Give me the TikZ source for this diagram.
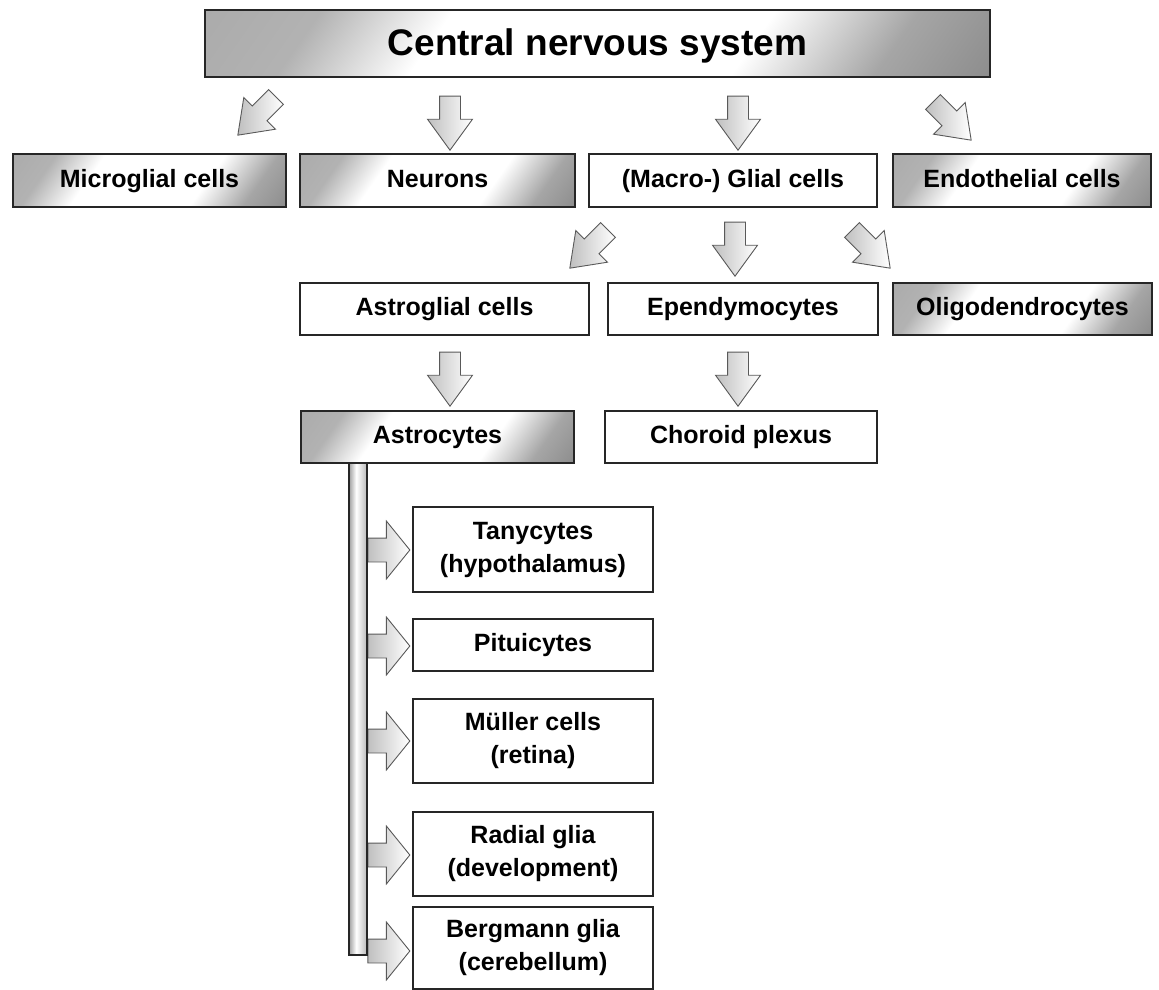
\documentclass[tikz,border=0pt]{standalone}
\usepackage{fontspec}
\setmainfont{Liberation Sans}
\usetikzlibrary{shapes.arrows}

\pgfdeclarehorizontalshading{cellshade}{100bp}{color(0bp)=(gray!75); color(25bp)=(gray!60);
	color(36bp)=(white); color(63bp)=(white); color(75bp)=(gray!70); color(100bp)=(gray!80!black)}
\pgfdeclarehorizontalshading{barshade}{100bp}{color(0bp)=(gray!75); color(25bp)=(gray!75);
	color(45bp)=(white); color(75bp)=(gray!55); color(100bp)=(gray!55)}

\begin{document}
\begin{tikzpicture}[x=1pt,y=-1pt,
		box/.style={draw=black!85, line width=1.4pt, rectangle, inner sep=0pt, align=center,
			font=\bfseries\fontsize{25}{33}\selectfont},
		oneline/.style={text height=18pt, text depth=5pt},
		shbox/.style={box, shading=cellshade, shading angle=-35},
		bigarrow/.style={single arrow, draw=black!65, line width=0.9pt, left color=gray!50, right color=white,
			inner xsep=0pt, inner ysep=10pt, single arrow head extend=12pt, single arrow tip angle=72, minimum height=54pt},
		sidearrow/.style={bigarrow, inner ysep=11.5pt, single arrow head extend=17pt, single arrow tip angle=102, minimum height=42pt}]
	\useasboundingbox (0,0) rectangle (1159,990);

	\node[shbox, minimum width=785pt, minimum height=67pt, text height=27pt, text depth=2pt,
		font=\bfseries\fontsize{37}{40}\selectfont] (cns) at (597.5,43.5) {Central nervous system};

	\node[shbox, oneline, minimum width=273pt, minimum height=53pt] (micro) at (149.5,180.5) {Microglial cells};
	\node[shbox, oneline, minimum width=275pt, minimum height=53pt] (neur) at (437.5,180.5) {Neurons};
	\node[box, oneline, minimum width=288pt, minimum height=53pt] (glia) at (733,180.5) {(Macro-) Glial cells};
	\node[shbox, oneline, minimum width=258pt, minimum height=53pt] (endo) at (1022,180.5) {Endothelial cells};

	\node[box, oneline, minimum width=289pt, minimum height=52pt] (astrog) at (444.5,309) {Astroglial cells};
	\node[box, oneline, minimum width=270pt, minimum height=52pt] (epend) at (743,309) {Ependymocytes};
	\node[shbox, oneline, minimum width=259pt, minimum height=52pt] (oligo) at (1022.5,309) {Oligodendrocytes};

	\node[shbox, oneline, minimum width=273pt, minimum height=52pt] (astro) at (437.5,437) {Astrocytes};
	\node[box, oneline, minimum width=272pt, minimum height=52pt] (chor) at (741,437) {Choroid plexus};

	\node[box, minimum width=240pt, minimum height=85pt] (tany) at (533,549.5) {Tanycytes\\(hypothalamus)};
	\node[box, oneline, minimum width=240pt, minimum height=52pt] (pitu) at (533,645) {Pituicytes};
	\node[box, minimum width=240pt, minimum height=84pt] (mull) at (533,741) {Müller cells\\(retina)};
	\node[box, minimum width=240pt, minimum height=84pt] (radi) at (533,854) {Radial glia\\(development)};
	\node[box, minimum width=240pt, minimum height=82pt] (berg) at (533,948) {Bergmann glia\\(cerebellum)};

	% arrows from the top box
	\node[bigarrow, rotate=-135] (a1) at (262,111) {};
	\node[bigarrow, rotate=-90] (a2) at (450,116) {};
	\node[bigarrow, rotate=-90] (a3) at (738,116) {};
	\node[bigarrow, rotate=-45] (a4) at (947,116) {};

	% arrows from the glial cells
	\node[bigarrow, rotate=-135] (b1) at (594,244) {};
	\node[bigarrow, rotate=-90] (b2) at (735,242) {};
	\node[bigarrow, rotate=-45] (b3) at (866,244) {};

	\node[bigarrow, rotate=-90] (c1) at (450,372) {};
	\node[bigarrow, rotate=-90] (c2) at (738,372) {};

	% side arrows along the bar
	\node[sidearrow] (s1) at (384,550) {};
	\node[sidearrow] (s2) at (384,646) {};
	\node[sidearrow] (s3) at (384,741) {};
	\node[sidearrow] (s4) at (384,855) {};
	\node[sidearrow] (s5) at (384,951) {};

	\node[draw=black!85, line width=1.4pt, inner sep=0pt, minimum width=18pt, minimum height=492pt,
		shading=barshade] (bar) at (358,709) {};
\end{tikzpicture}
\end{document}
